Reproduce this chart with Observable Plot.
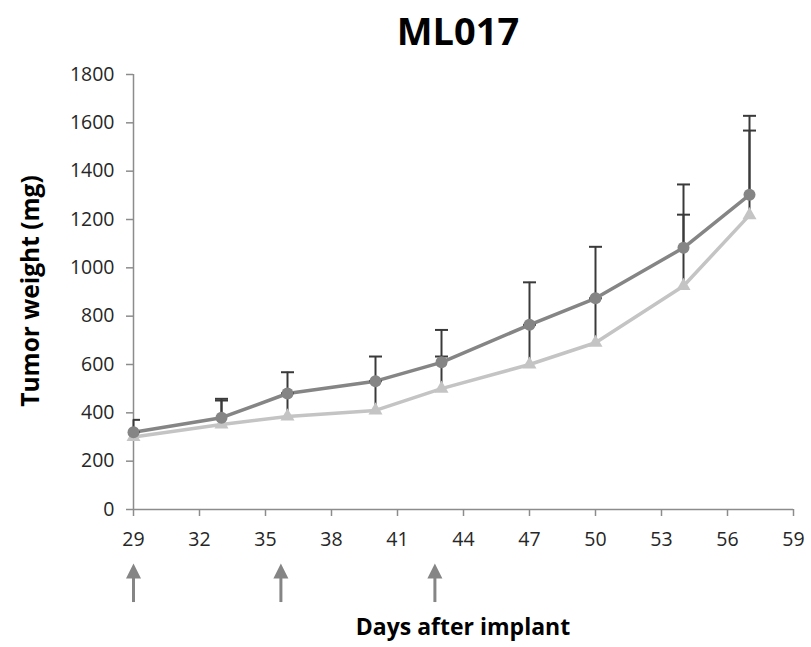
<!DOCTYPE html>
<html>
<head>
<meta charset="utf-8">
<script src="https://cdn.jsdelivr.net/npm/d3@7"></script>
<script src="https://cdn.jsdelivr.net/npm/@observablehq/plot@0.6"></script>
<style>
  html, body { margin: 0; padding: 0; background: #fff; }
  #wrap { position: relative; width: 811px; height: 647px; overflow: hidden; }
  #title { position: absolute; left: 358px; width: 200px; top: 11px; text-align: center;
           font-family: "Open Sans", sans-serif; font-weight: 700; font-size: 38px; line-height: 1; color: #000; }
  #chart { position: absolute; left: 0; top: 60px; }
  #xlabel { position: absolute; left: 263px; width: 400px; top: 615px; text-align: center;
            font-family: "Open Sans", sans-serif; font-weight: 700; font-size: 23px; line-height: 1; color: #000; }
  #ylabel { position: absolute; left: 30px; top: 291px; transform: translate(-50%, -50%) rotate(-90deg);
            white-space: nowrap; font-family: "Open Sans", sans-serif; font-weight: 700; font-size: 24.5px; line-height: 1; color: #000; }
</style>
</head>
<body>
<div id="wrap">
  <div id="title">ML017</div>
  <div id="chart"></div>
  <div id="ylabel">Tumor weight (mg)</div>
  <div id="xlabel">Days after implant</div>
</div>
<script>
// ---- data ----
const days = [29, 33, 36, 40, 43, 47, 50, 54, 57];
const circleSeries = [320, 380, 480, 531, 609, 764, 874, 1083, 1302];
const circleErr = [51, 78, 88, 102, 134, 176, 213, 262, 327];
const triangleSeries = [300, 352, 385, 410, 500, 600, 690, 925, 1218];
const triangleErr = [20, 99, 96, 121, 133, 164, 184, 295, 350];
const xTicks = [29, 32, 35, 38, 41, 44, 47, 50, 53, 56, 59];
const yTicks = [0, 200, 400, 600, 800, 1000, 1200, 1400, 1600, 1800];
const arrowDays = [29, 35.7, 42.7];

// ---- tables ----
const rowsA = days.map((d, i) => ({day: d, value: circleSeries[i], err: circleErr[i]}));
const rowsB = days.map((d, i) => ({day: d, value: triangleSeries[i], err: triangleErr[i]}));
const allRows = rowsB.concat(rowsA);

const capSymbol = {
  draw(ctx) { ctx.moveTo(-6.5, 0); ctx.lineTo(6.5, 0); }
};
const arrowHead = {
  draw(ctx) { ctx.moveTo(0, -7.5); ctx.lineTo(7.5, 7.5); ctx.lineTo(-7.5, 7.5); ctx.closePath(); }
};

const axisGray = "#8c8c8c";
const errColor = "#3a3a3a";
const tickText = "#262626";

const plot = Plot.plot({
  width: 811,
  height: 587,
  marginLeft: 133,
  marginRight: 18,
  marginTop: 14,
  marginBottom: 138,
  style: {fontFamily: "'Open Sans', sans-serif", background: "transparent", overflow: "visible"},
  x: {domain: [29, 59]},
  y: {domain: [0, 1800]},
  marks: [
    Plot.axisY({ticks: yTicks, tickFormat: d3.format("d"), tickSize: 7, tickPadding: 12, fontSize: 19.5, stroke: axisGray, strokeWidth: 1.5, fill: tickText, label: null}),
    Plot.axisX({ticks: xTicks, tickFormat: () => "", tickSize: 7, stroke: axisGray, strokeWidth: 1.5, label: null}),
    Plot.text(xTicks, {x: d => d, y: 0, text: d => String(d), dy: 30, lineAnchor: "middle", textAnchor: "middle", fontSize: 19.5, fill: tickText}),
    Plot.ruleX([29], {stroke: axisGray, strokeWidth: 1.5}),
    Plot.ruleY([0], {stroke: axisGray, strokeWidth: 1.5}),
    Plot.line(rowsB, {x: "day", y: "value", stroke: "#c4c4c4", strokeWidth: 3.5}),
    Plot.line(rowsA, {x: "day", y: "value", stroke: "#858585", strokeWidth: 3.5}),
    Plot.ruleX(allRows, {x: "day", y1: "value", y2: d => d.value + d.err, stroke: errColor, strokeWidth: 2}),
    Plot.dot(allRows, {x: "day", y: d => d.value + d.err, symbol: capSymbol, r: 5, stroke: errColor, strokeWidth: 2, clip: "frame"}),
    Plot.dot(rowsB, {x: "day", y: "value", symbol: "triangle", r: 5.2, fill: "#c4c4c4", stroke: "none"}),
    Plot.dot(rowsA, {x: "day", y: "value", symbol: "circle", r: 6, fill: "#858585", stroke: "none"}),
    Plot.ruleX(arrowDays, {x: d => d, y1: -260, y2: -385, stroke: "#858585", strokeWidth: 3}),
    Plot.dot(arrowDays, {x: d => d, y: -254, symbol: arrowHead, r: 5, fill: "#858585", stroke: "none"})
  ]
});
document.getElementById("chart").appendChild(plot);
</script>
</body>
</html>
